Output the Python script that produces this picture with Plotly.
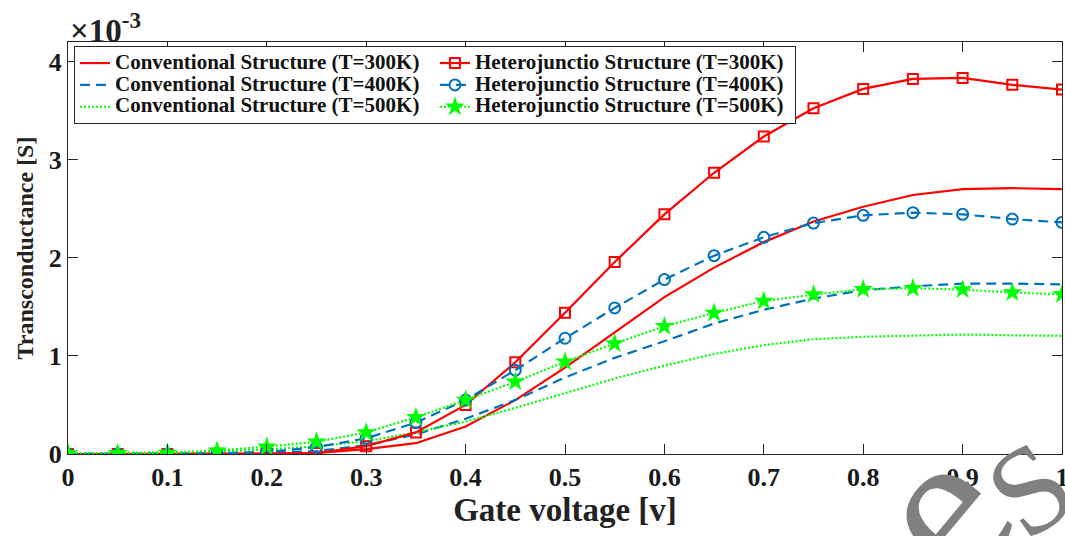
import plotly.graph_objects as go

# Gate voltage [V]
gate_voltage = [0, 0.05, 0.1, 0.15, 0.2, 0.25, 0.3, 0.35, 0.4, 0.45, 0.5,
                0.55, 0.6, 0.65, 0.7, 0.75, 0.8, 0.85, 0.9, 0.95, 1.0]

# Transconductance in units of 1e-3 S
conv_300 = [0, 0, 0, 0, 0.003, 0.01, 0.05, 0.11, 0.28, 0.55, 0.88,
            1.24, 1.60, 1.90, 2.16, 2.37, 2.52, 2.64, 2.70, 2.71, 2.70]
het_300 = [0, 0, 0, 0.003, 0.005, 0.01, 0.08, 0.22, 0.50, 0.935, 1.44,
           1.957, 2.443, 2.867, 3.237, 3.525, 3.722, 3.824, 3.834, 3.763, 3.715]
conv_400 = [0, 0, 0.003, 0.008, 0.015, 0.03, 0.09, 0.20, 0.36, 0.55, 0.78,
            0.98, 1.15, 1.33, 1.47, 1.585, 1.67, 1.71, 1.737, 1.737, 1.73]
het_400 = [0, 0, 0, 0.005, 0.02, 0.07, 0.16, 0.32, 0.55, 0.855, 1.18,
           1.489, 1.778, 2.022, 2.209, 2.354, 2.433, 2.46, 2.443, 2.395, 2.361]
conv_500 = [0.005, 0.01, 0.015, 0.025, 0.045, 0.08, 0.13, 0.22, 0.33, 0.47, 0.62,
            0.77, 0.90, 1.02, 1.11, 1.17, 1.195, 1.21, 1.218, 1.21, 1.205]
het_500 = [0.007, 0.008, 0.01, 0.034, 0.075, 0.125, 0.22, 0.375, 0.55, 0.736, 0.94,
           1.127, 1.303, 1.438, 1.56, 1.625, 1.679, 1.69, 1.676, 1.646, 1.628]

x_ticks = [0, 0.1, 0.2, 0.3, 0.4, 0.5, 0.6, 0.7, 0.8, 0.9, 1]
x_tick_text = ["0", "0.1", "0.2", "0.3", "0.4", "0.5", "0.6", "0.7", "0.8", "0.9", "1"]
y_ticks = [0, 1, 2, 3, 4]
y_tick_text = ["0", "1", "2", "3", "4"]

series_names = [
    "Conventional Structure (T=300K)",
    "Heterojunctio Structure (T=300K)",
    "Conventional Structure (T=400K)",
    "Heterojunctio Structure (T=400K)",
    "Conventional Structure (T=500K)",
    "Heterojunctio Structure (T=500K)",
]

RED = "#FF0000"
BLUE = "#0072BD"
GREEN = "#00FF00"
FONT = "Liberation Serif"


def leg(name):
    # rendered at 21px while the legend row height follows the smaller base font
    return '<span style="font-size:21px"><b>' + name + "</b></span>"


def bold(labels):
    return ["<b>" + t + "</b>" for t in labels]


fig = go.Figure()

fig.add_trace(go.Scatter(x=gate_voltage, y=conv_300, mode="lines",
                         name=leg(series_names[0]), legendrank=1,
                         line=dict(color=RED, width=2.2)))
fig.add_trace(go.Scatter(x=gate_voltage, y=conv_400, mode="lines",
                         name=leg(series_names[2]), legendrank=3,
                         line=dict(color=BLUE, width=2.2, dash="10px,6px")))
fig.add_trace(go.Scatter(x=gate_voltage, y=conv_500, mode="lines",
                         name=leg(series_names[4]), legendrank=5,
                         line=dict(color=GREEN, width=2.2, dash="2px,2px")))
fig.add_trace(go.Scatter(x=gate_voltage, y=het_300, mode="lines+markers",
                         name=leg(series_names[1]), legendrank=2,
                         line=dict(color=RED, width=2.2),
                         marker=dict(symbol="square-open", size=10, color=RED,
                                     line=dict(width=2, color=RED))))
fig.add_trace(go.Scatter(x=gate_voltage, y=het_400, mode="lines+markers",
                         name=leg(series_names[3]), legendrank=4,
                         line=dict(color=BLUE, width=2.2, dash="10px,6px"),
                         marker=dict(symbol="circle-open", size=11, color=BLUE,
                                     line=dict(width=2, color=BLUE))))
fig.add_trace(go.Scatter(x=gate_voltage, y=het_500, mode="lines+markers",
                         name=leg(series_names[5]), legendrank=6,
                         line=dict(color=GREEN, width=2.2, dash="2px,2px"),
                         marker=dict(symbol="star", size=15, color=GREEN,
                                     line=dict(width=0))))

axis_common = dict(
    showline=True, linecolor="#262626", linewidth=1, mirror="ticks",
    ticks="inside", ticklen=10, tickcolor="#262626", tickwidth=1,
    showgrid=False, zeroline=False, automargin=False,
    tickfont=dict(family=FONT, size=26, color="#1a1a1a"),
)

fig.update_xaxes(range=[0, 1], tickvals=x_ticks, ticktext=bold(x_tick_text),
                 ticklabeloverflow="allow",
                 title=dict(text="<b>Gate voltage [v]</b>", standoff=4,
                            font=dict(family=FONT, size=33, color="#222222")),
                 **axis_common)
fig.update_yaxes(range=[0, 4.2], tickvals=y_ticks, ticktext=bold(y_tick_text),
                 title=dict(text="<b>Transconductance [S]</b>", standoff=8,
                            font=dict(family=FONT, size=24, color="#222222")),
                 **axis_common)

fig.update_layout(
    width=1065, height=536,
    margin=dict(l=68, r=3, t=42, b=82, autoexpand=False),
    paper_bgcolor="white", plot_bgcolor="white",
    font=dict(family=FONT, color="#111111"),
    legend=dict(
        orientation="h", x=0.006, y=0.99, xanchor="left", yanchor="top",
        entrywidth=315, entrywidthmode="pixels",
        bgcolor="white", bordercolor="#262626", borderwidth=1,
        font=dict(family=FONT, size=14.5, color="#111111"),
        tracegroupgap=0, itemwidth=30,
    ),
    annotations=[
        dict(text="<b>×10<sup>-3</sup></b>", xref="paper", yref="paper",
             x=0.0, y=1.0, xanchor="left", yanchor="bottom", showarrow=False,
             font=dict(family=FONT, size=33, color="#222222"), yshift=-9),
        # watermark fragments at the lower right corner
        dict(text="e", xref="paper", yref="paper", x=0.875, y=-0.135,
             xanchor="center", yanchor="middle", showarrow=False, textangle=-50,
             font=dict(family=FONT, size=215, color="#808080")),
        dict(text="S", xref="paper", yref="paper", x=0.968, y=-0.085,
             xanchor="center", yanchor="middle", showarrow=False, textangle=-35,
             font=dict(family=FONT, size=125, color="#808080")),
    ],
)

fig.write_html("out.html")
